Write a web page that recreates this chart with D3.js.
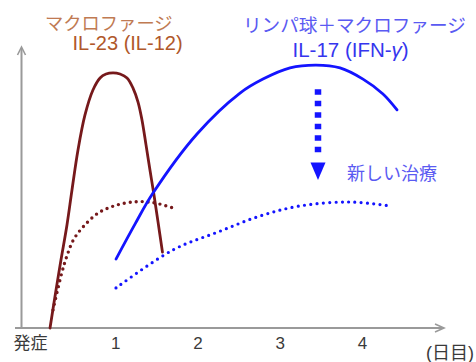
<!DOCTYPE html>
<html>
<head>
<meta charset="utf-8">
<script src="https://cdn.jsdelivr.net/npm/d3@7"></script>
<style>
  body { margin: 0; background: #fff; }
  svg { display: block; }
  text { font-family: "Liberation Sans", "Noto Sans CJK JP", sans-serif; }
</style>
</head>
<body>
<script>
// ---- data (x = days since onset, y = relative level) ----
const tickValues = [0, 1, 2, 3, 4];
const tickLabels = ["発症", "1", "2", "3", "4"];
const unitLabel = "(日目)";

// Macrophage IL-23 (IL-12): solid
const il23Days  = [0.207, 0.280, 0.340, 0.413, 0.474, 0.547, 0.632, 0.729, 0.815, 0.888, 0.973,
                   1.058, 1.143, 1.216, 1.277, 1.325, 1.374, 1.422, 1.471, 1.520, 1.574];
const il23Level = [0, 13.6, 24.3, 36.8, 49.3, 63.6, 76.1, 85.0, 89.3, 90.7, 91.1,
                   90.7, 89.3, 85.7, 80.7, 74.3, 65.4, 56.4, 47.5, 37.9, 27.1];

// Macrophage, new treatment: dotted
const il23NewDays  = [0.243, 0.349, 0.410, 0.490, 0.612, 0.794, 1.018, 1.261, 1.459, 1.702];
const il23NewLevel = [6.4, 19.6, 25.5, 31.4, 36.2, 41.1, 43.9, 45.1, 44.8, 42.9];

// Lymphocyte + macrophage IL-17 (IFN-γ): solid
const il17Days  = [1.009, 1.240, 1.459, 1.994, 2.517, 2.796, 3.125, 3.441, 3.733, 4.012, 4.255, 4.426];
const il17Level = [24.6, 37.1, 48.2, 69.3, 83.9, 88.9, 92.9, 93.9, 92.9, 88.9, 83.6, 77.9];

// Lymphocyte + macrophage, new treatment: dotted
const il17NewDays  = [1.009, 1.702, 2.249, 2.760, 3.246, 3.854, 4.340];
const il17NewLevel = [14.3, 27.9, 34.3, 40.0, 43.6, 45.0, 43.6];

const W = 476, H = 362;
const svg = d3.select("body").append("svg").attr("width", W).attr("height", H);

const x = d3.scaleLinear().domain([0, 4]).range([33, 362]);
const y = d3.scaleLinear().domain([0, 100]).range([328, 48]);

const axisColor = "#9a9a9a";
const brown = "#76191b";
const blue = "#1414ff";

// axes lines
svg.append("line").attr("x1", 15).attr("x2", 443).attr("y1", y(0)).attr("y2", y(0))
  .attr("stroke", axisColor).attr("stroke-width", 2);
svg.append("line").attr("x1", 21.5).attr("x2", 21.5).attr("y1", y(0)).attr("y2", 48)
  .attr("stroke", axisColor).attr("stroke-width", 2);
// arrow heads
svg.append("path").attr("d", "M17.5,55 L21.5,47 L25.5,55")
  .attr("fill", "none").attr("stroke", axisColor).attr("stroke-width", 1.6);
svg.append("path").attr("d", `M435,${y(0)-4} L444,${y(0)} L435,${y(0)+4}`)
  .attr("fill", "none").attr("stroke", axisColor).attr("stroke-width", 1.6);

// tick labels via axis
const ax = svg.append("g").attr("transform", `translate(0,${y(0)})`)
  .call(d3.axisBottom(x).tickValues(tickValues).tickFormat((d, i) => tickLabels[i]).tickSize(0).tickPadding(9));
ax.select(".domain").remove();
ax.selectAll("text").attr("font-size", 17).attr("fill", "#3a3a3a")
  .style("font-family", "\"Liberation Sans\", \"Noto Sans CJK JP\", sans-serif")
  .attr("dx", (d) => d === 0 ? -3 : 0);

svg.append("text").attr("x", 426).attr("y", 359).attr("font-size", 18).attr("fill", "#3a3a3a")
  .text(unitLabel);

const line = d3.line().x(d => x(d[0])).y(d => y(d[1])).curve(d3.curveCatmullRom.alpha(0.5));
const zip = (a, b) => a.map((v, i) => [v, b[i]]);

// dotted curves
svg.append("path").attr("d", line(zip(il23NewDays, il23NewLevel)))
  .attr("fill", "none").attr("stroke", brown).attr("stroke-width", 3.4)
  .attr("stroke-linecap", "round").attr("stroke-dasharray", "0,6");
svg.append("path").attr("d", line(zip(il17NewDays, il17NewLevel)))
  .attr("fill", "none").attr("stroke", blue).attr("stroke-width", 3.2)
  .attr("stroke-linecap", "round").attr("stroke-dasharray", "0,6.3");

// solid curves
svg.append("path").attr("d", line(zip(il23Days, il23Level)))
  .attr("fill", "none").attr("stroke", brown).attr("stroke-width", 2.8)
  .attr("stroke-linecap", "round");
svg.append("path").attr("d", line(zip(il17Days, il17Level)))
  .attr("fill", "none").attr("stroke", blue).attr("stroke-width", 2.8)
  .attr("stroke-linecap", "round");

// dashed downward arrow (treatment effect)
const ax0 = 318;
svg.append("line").attr("x1", ax0).attr("x2", ax0).attr("y1", 89.3).attr("y2", 152.5)
  .attr("stroke", blue).attr("stroke-width", 6.5).attr("stroke-dasharray", "5.5,6");
svg.append("path").attr("d", `M${ax0-7.5},162.5 L${ax0+7.5},162.5 L${ax0},180 Z`).attr("fill", blue);

// labels
svg.append("text").attr("x", 45).attr("y", 30).attr("font-size", 18.3).attr("fill", "#c07a52")
  .text("マクロファージ");
svg.append("text").attr("x", 72.5).attr("y", 50).attr("font-size", 20).attr("fill", "#b0582a")
  .text("IL-23 (IL-12)");
svg.append("text").attr("x", 243).attr("y", 31.5).attr("font-size", 18.6).attr("fill", "#5a5af2")
  .text("リンパ球＋マクロファージ");
const t17 = svg.append("text").attr("x", 292.5).attr("y", 56.5).attr("font-size", 20.5).attr("fill", "#3535ee");
t17.append("tspan").text("IL-17 (IFN-");
t17.append("tspan").attr("font-style", "italic").text("γ");
t17.append("tspan").text(")");
svg.append("text").attr("x", 347).attr("y", 180).attr("font-size", 18).attr("fill", "#5a5af2")
  .text("新しい治療");
</script>
</body>
</html>
